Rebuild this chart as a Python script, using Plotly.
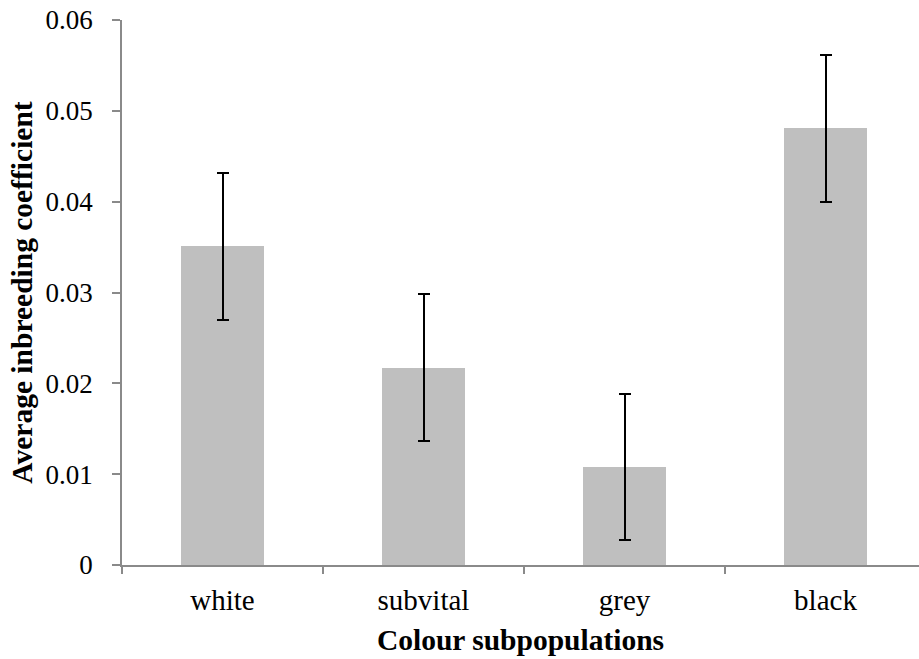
import plotly.graph_objects as go

# Average inbreeding coefficient per colour subpopulation, with error bars
categories = ["white", "subvital", "grey", "black"]
mean_f = [0.0351, 0.0217, 0.0108, 0.0481]
err_f = [0.0081, 0.0081, 0.0080, 0.0081]

y_ticks = [0, 0.01, 0.02, 0.03, 0.04, 0.05, 0.06]
y_tick_text = ["0", "0.01", "0.02", "0.03", "0.04", "0.05", "0.06"]

FONT = "Liberation Serif, Times New Roman, serif"
AXIS_GREY = "#8a8a8a"

fig = go.Figure()
fig.add_trace(go.Bar(
    x=categories,
    y=mean_f,
    width=0.41,
    marker=dict(color="#bfbfbf", line=dict(width=0)),
    error_y=dict(type="data", array=err_f, symmetric=True,
                 color="black", thickness=2, width=6),
    showlegend=False,
))

fig.update_layout(
    width=919,
    height=659,
    margin=dict(l=122, r=0, t=20, b=94),
    paper_bgcolor="white",
    plot_bgcolor="white",
    font=dict(family=FONT, color="black"),
    bargap=0,
)

fig.update_xaxes(
    type="category",
    range=[-0.5, 3.465],
    showline=True, linecolor=AXIS_GREY, linewidth=1.5,
    ticks="outside", tickson="boundaries", ticklen=7,
    tickcolor=AXIS_GREY, tickwidth=1.5,
    tickfont=dict(family=FONT, size=29, color="black"),
    ticklabelstandoff=8,
    showgrid=False, zeroline=False,
    title=dict(text="<b>Colour subpopulations</b>",
               font=dict(family=FONT, size=29.5, color="black"),
               standoff=15),
)

fig.update_yaxes(
    range=[0, 0.06],
    tickvals=y_ticks, ticktext=y_tick_text,
    showline=True, linecolor=AXIS_GREY, linewidth=1.5,
    ticks="outside", ticklen=8, tickcolor=AXIS_GREY, tickwidth=1.5,
    tickfont=dict(family=FONT, size=27, color="black"),
    ticklabelstandoff=14,
    showgrid=False, zeroline=False,
    title=dict(text="<b>Average inbreeding coefficient</b>",
               font=dict(family=FONT, size=29.5, color="black"),
               standoff=4),
)

fig.write_html("out.html")
